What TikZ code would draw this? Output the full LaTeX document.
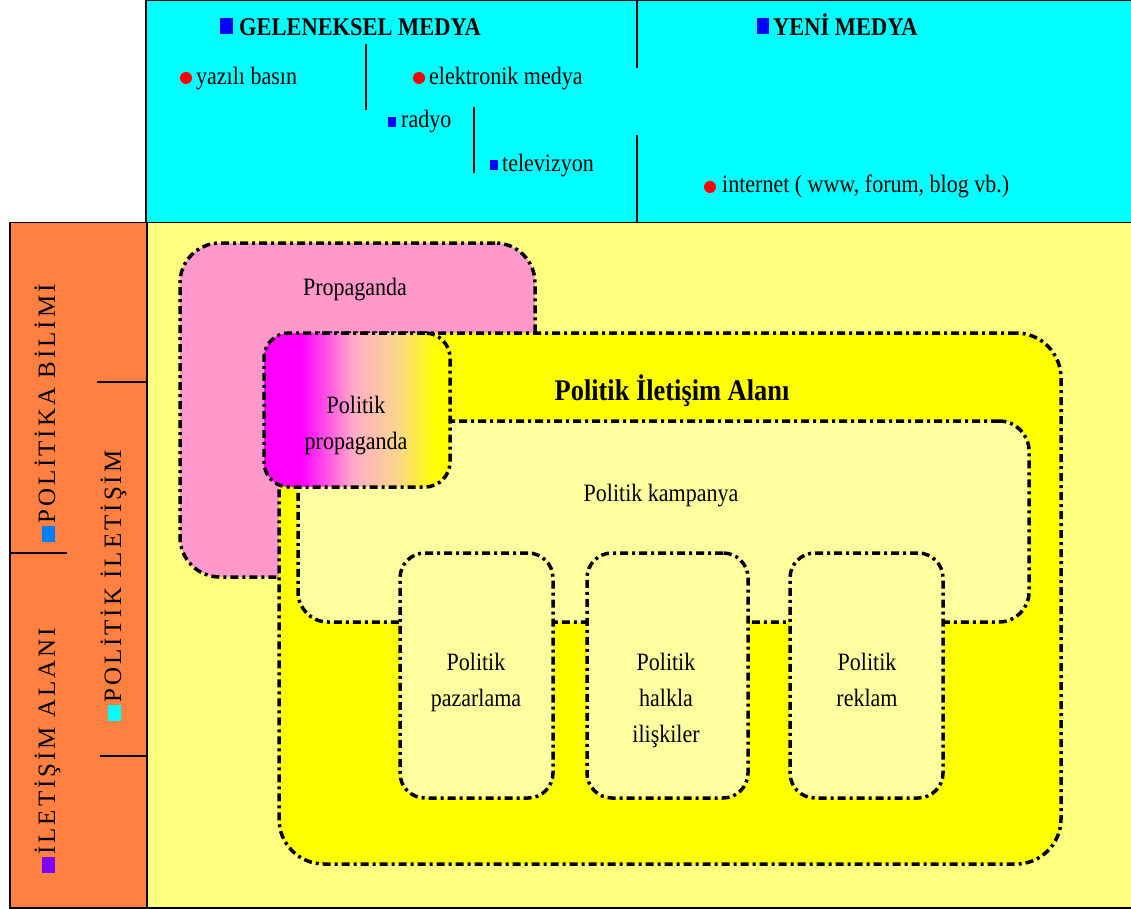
\documentclass[tikz,border=0pt]{standalone}
\usepackage{fontspec}
\setmainfont{Liberation Serif}[FakeStretch=0.88]
\newfontfamily\sidefont{Liberation Serif}[LetterSpace=12]

% palette
\definecolor{skycyan}{RGB}{0,255,255}
\definecolor{sideorange}{RGB}{255,128,64}
\definecolor{paleyellow}{RGB}{255,255,128}
\definecolor{creamyellow}{RGB}{255,255,160}
\definecolor{brightyellow}{RGB}{255,255,0}
\definecolor{propink}{RGB}{255,153,204}
\definecolor{bulletblue}{RGB}{0,0,255}
\definecolor{bulletred}{RGB}{255,0,0}
\definecolor{sqblue}{RGB}{0,128,255}
\definecolor{sqpurple}{RGB}{128,0,255}
\definecolor{pinkmid}{RGB}{255,172,200}
\definecolor{tanmid}{RGB}{250,215,140}

% magenta -> pink -> yellow blend for the overlap region
\pgfdeclarehorizontalshading{propshade}{100bp}{%
  color(0bp)=(magenta); color(35bp)=(magenta); color(49bp)=(pinkmid);
  color(61bp)=(tanmid); color(71bp)=(brightyellow); color(100bp)=(brightyellow)}

\tikzset{
  frame/.style={draw=black, line width=1.5pt, inner sep=0pt, anchor=north west},
  region/.style={draw=black, line width=3.5pt,
    dash pattern=on 8pt off 4pt on 3pt off 4pt,
    rounded corners=#1, inner sep=0pt},
  lbl/.style={font=\fontsize{25}{36}\selectfont, inner sep=0pt, align=center},
  hdr/.style={font=\fontsize{25.5}{30}\selectfont\bfseries, inner sep=0pt, anchor=base west},
  item/.style={font=\fontsize{25}{30}\selectfont, inner sep=0pt, anchor=base west},
  sidetext/.style={font=\fontsize{25}{28}\sidefont, inner sep=0pt, rotate=90, anchor=base west},
  sqbullet/.style={fill=#1, inner sep=0pt},
  dotbullet/.style={circle, fill=bulletred, inner sep=0pt, minimum size=12pt},
  rule/.style={line width=1.5pt}
}

\begin{document}
\begin{tikzpicture}[x=1pt,y=-1pt]
\useasboundingbox (0,0) rectangle (1131,909);

% background panels
\node[frame, fill=paleyellow, minimum width=985pt, minimum height=685pt] (field) at (146,222) {};
\node[frame, fill=sideorange, minimum width=137pt, minimum height=685pt] (side) at (9,222) {};
\node[frame, fill=skycyan, minimum width=986pt, minimum height=222pt] (media) at (145,0) {};

% media band: dividers
\draw[rule] (366,44) -- (366,110);
\draw[rule] (474,107) -- (474,173);
\draw[rule] (637,0) -- (637,68);
\draw[rule] (637,135) -- (637,222);

% media band: headings and items
\node[sqbullet=bulletblue, minimum width=13pt, minimum height=16pt] (bgel) at (226.5,26) {};
\node[hdr] (gel) at (239,36) {GELENEKSEL MEDYA};
\node[sqbullet=bulletblue, minimum width=12pt, minimum height=16pt] (byeni) at (762.5,26) {};
\node[hdr] (yeni) at (773,36) {YENİ MEDYA};

\node[dotbullet] (byaz) at (186,78) {};
\node[item] (yaz) at (196,85) {yazılı basın};
\node[dotbullet] (belek) at (419,78) {};
\node[item] (elek) at (429,85) {elektronik medya};
\node[sqbullet=bulletblue, minimum width=8pt, minimum height=10pt] (brad) at (391.5,122) {};
\node[item] (rad) at (401,128) {radyo};
\node[sqbullet=bulletblue, minimum width=8pt, minimum height=10pt] (btel) at (494,165) {};
\node[item] (tel) at (502,172) {televizyon};
\node[dotbullet] (bint) at (710,187) {};
\node[item] (inet) at (722,193) {internet ( www, forum, blog vb.)};

% side column: separators and rotated titles
\draw[rule] (97,382) -- (146,382);
\draw[rule] (9,553) -- (67,553);
\draw[rule] (100,756) -- (146,756);
\node[sidetext] (ila) at (55,873) {\textcolor{sqpurple}{\rule{16pt}{13pt}}\hspace{2pt}İLETİŞİM ALANI};
\node[sidetext] (pbi) at (55,542) {\textcolor{sqblue}{\rule{16pt}{13pt}}\hspace{2pt}POLİTİKA BİLİMİ};
\node[sidetext] (pil) at (121,721) {\textcolor{skycyan}{\rule{16pt}{13pt}}\hspace{2pt}POLİTİK İLETİŞİM};

% nested regions
\node[region=40pt, fill=propink, minimum width=355pt, minimum height=334pt] (prop) at (357.5,410) {};
\node[region=45pt, fill=brightyellow, minimum width=782pt, minimum height=531pt] (alan) at (670,598.5) {};
\node[region=30pt, fill=creamyellow, minimum width=731pt, minimum height=201pt] (kamp) at (663.5,521.5) {};
\node[region=25pt, shade, shading=propshade, minimum width=186pt, minimum height=154pt] (ppro) at (357,410) {};
\node[region=25pt, fill=creamyellow, minimum width=153pt, minimum height=245pt] (pazar) at (476.5,675.5) {};
\node[region=25pt, fill=creamyellow, minimum width=161pt, minimum height=245pt] (halk) at (667.5,675.5) {};
\node[region=25pt, fill=creamyellow, minimum width=153pt, minimum height=245pt] (rek) at (866.5,675.5) {};

% region labels
\node[lbl] (lprop) at (355,290) {Propaganda};
\node[lbl, font=\fontsize{30}{36}\selectfont\bfseries] (lalan) at (672,391) {Politik İletişim Alanı};
\node[lbl] (lkamp) at (661,496) {Politik kampanya};
\node[lbl, anchor=north] (lppro) at (356,396) {Politik\\propaganda};
\node[lbl, anchor=north] (lpazar) at (476,653) {Politik\\pazarlama};
\node[lbl, anchor=north] (lhalk) at (666,653) {Politik\\halkla\\ilişkiler};
\node[lbl, anchor=north] (lrek) at (867,653) {Politik\\reklam};
\end{tikzpicture}
\end{document}
